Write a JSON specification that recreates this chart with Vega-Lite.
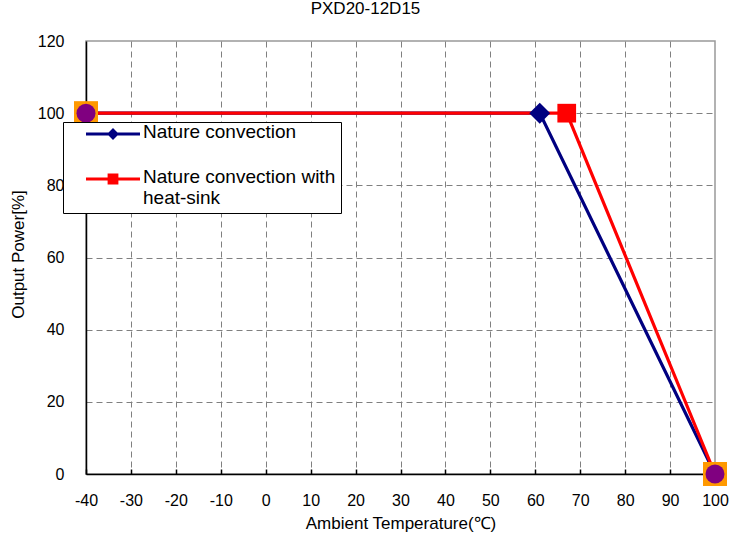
{
  "$schema": "https://vega.github.io/schema/vega-lite/v6.json",
  "width": 629,
  "height": 433,
  "autosize": {"type": "none"},
  "padding": {"left": 86, "top": 41, "right": 17, "bottom": 64},
  "background": "white",
  "title": {"text": "PXD20-12D15", "fontSize": 17, "font": "Liberation Sans", "fontWeight": "normal", "color": "black", "anchor": "middle", "dx": -35, "offset": 15},
  "config": {
    "view": {"stroke": "#999999", "strokeWidth": 1.5},
    "font": "Liberation Sans"
  },
  "datasets": {
    "lines": [
      {"series": "Nature convection", "x": -40, "y": 100},
      {"series": "Nature convection", "x": 61, "y": 100},
      {"series": "Nature convection", "x": 100, "y": 0},
      {"series": "Nature convection with heat-sink", "x": -40, "y": 100},
      {"series": "Nature convection with heat-sink", "x": 67, "y": 100},
      {"series": "Nature convection with heat-sink", "x": 100, "y": 0}
    ],
    "ends": [
      {"x": -40, "y": 100},
      {"x": 100, "y": 0}
    ]
  },
  "layer": [
    {
      "data": {"name": "lines"},
      "mark": {"type": "line", "strokeWidth": 3.2},
      "encoding": {
        "x": {
          "field": "x", "type": "quantitative",
          "scale": {"domain": [-40, 100], "nice": false, "zero": false},
          "axis": {
            "title": "Ambient Temperature(℃)", "titleFontSize": 17, "titleFontWeight": "normal", "titleColor": "black",
            "titleX": 314.5, "titleY": 49, "titleBaseline": "middle", "titleAlign": "center",
            "values": [-40, -35, -30, -25, -20, -15, -10, -5, 0, 5, 10, 15, 20, 25, 30, 35, 40, 45, 50, 55, 60, 65, 70, 75, 80, 85, 90, 95, 100],
            "labelExpr": "datum.value % 10 === 0 ? toString(datum.value) : ''",
            "labelFontSize": 16, "labelColor": "black", "labelPadding": 23, "labelFlush": false, "labelOverlap": false,
            "tickSize": -5, "tickColor": "black", "tickWidth": 1.5,
            "domainColor": "black", "domainWidth": 1.5,
            "grid": true, "gridColor": "#808080", "gridDash": [6, 4], "gridWidth": 1,
            "gridOpacity": {"condition": {"test": "datum.value % 10 !== 0 || datum.value === -40 || datum.value === 100", "value": 0}, "value": 1}
          }
        },
        "y": {
          "field": "y", "type": "quantitative",
          "scale": {"domain": [0, 120], "nice": false},
          "axis": {
            "title": "Output Power[%]", "titleFontSize": 17, "titleFontWeight": "normal", "titleColor": "black",
            "titleX": -68, "titleY": 213, "titleBaseline": "middle", "titleAlign": "center", "titleAngle": -90,
            "values": [0, 20, 40, 60, 80, 100, 120],
            "ticks": false, "labelPadding": 22, "labelFontSize": 16, "labelColor": "black",
            "domainColor": "black", "domainWidth": 1.5,
            "grid": true, "gridColor": "#808080", "gridDash": [6, 4], "gridWidth": 1,
            "gridOpacity": {"condition": {"test": "datum.value === 0 || datum.value === 120", "value": 0}, "value": 1}
          }
        },
        "color": {
          "field": "series", "type": "nominal",
          "scale": {"domain": ["Nature convection", "Nature convection with heat-sink"], "range": ["#000080", "#FF0000"]},
          "legend": {
            "orient": "none", "legendX": -23, "legendY": 81,
            "title": null, "direction": "vertical",
            "fillColor": "white", "strokeColor": "black",
            "padding": 5,
            "symbolSize": 2916, "symbolStrokeWidth": 0, "symbolOffset": 18, "labelOffset": 3,
            "clipHeight": 14,
            "labelFontSize": 19, "labelColor": "black", "labelLimit": 400, "labelBaseline": "top",
            "labelExpr": "datum.value === 'Nature convection with heat-sink' ? ['Nature convection with   ', 'heat-sink'] : datum.label",
            "rowPadding": 26,
            "encode": {
              "symbols": {"update": {
                "shape": {"signal": "datum.value === 'Nature convection' ? 'M-1,-0.055L1,-0.055L1,0.055L-1,0.055Z M0,-0.22L0.22,0L0,0.22L-0.22,0Z' : 'M-1,-0.055L1,-0.055L1,0.055L-1,0.055Z M-0.2,-0.2L0.2,-0.2L0.2,0.2L-0.2,0.2Z'"},
                "fill": {"scale": "color", "field": "value"},
                "stroke": {"value": "transparent"},
                "opacity": {"value": 1}
              }},
              "labels": {"update": {"dy": {"value": -11}, "lineHeight": {"value": 21}}}
            }
          }
        }
      }
    },
    {
      "data": {"name": "lines"},
      "transform": [{"filter": "datum.series === 'Nature convection'"}],
      "mark": {"type": "point", "filled": true, "opacity": 1, "shape": "diamond", "size": 441, "color": "#000080"},
      "encoding": {
        "x": {"field": "x", "type": "quantitative"},
        "y": {"field": "y", "type": "quantitative"}
      }
    },
    {
      "data": {"name": "lines"},
      "transform": [{"filter": "datum.series === 'Nature convection with heat-sink'"}],
      "mark": {"type": "point", "filled": true, "opacity": 1, "shape": "square", "size": 350, "color": "#FF0000"},
      "encoding": {
        "x": {"field": "x", "type": "quantitative"},
        "y": {"field": "y", "type": "quantitative"}
      }
    },
    {
      "data": {"name": "ends"},
      "mark": {"type": "point", "filled": true, "opacity": 1, "shape": "square", "size": 576, "color": "#FF9900"},
      "encoding": {
        "x": {"field": "x", "type": "quantitative"},
        "y": {"field": "y", "type": "quantitative"}
      }
    },
    {
      "data": {"name": "ends"},
      "mark": {"type": "point", "filled": true, "opacity": 1, "shape": "circle", "size": 361, "color": "#800080"},
      "encoding": {
        "x": {"field": "x", "type": "quantitative"},
        "y": {"field": "y", "type": "quantitative"}
      }
    }
  ]
}
